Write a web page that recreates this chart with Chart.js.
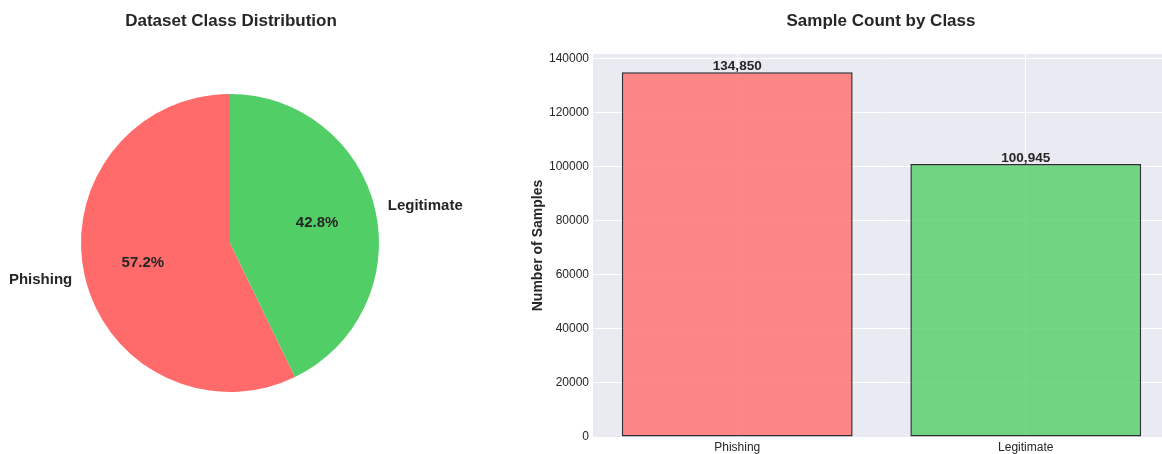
<!DOCTYPE html>
<html>
<head>
<meta charset="utf-8">
<script src="https://cdn.jsdelivr.net/npm/chart.js@4"></script>
<style>
  body { margin: 0; background: #fff; overflow: hidden; }
  #wrap { position: relative; width: 1162px; height: 454px; overflow: hidden; }
  #pieBox { position: absolute; left: 0; top: 0; width: 470px; height: 454px; }
  #barBox { position: absolute; left: 470px; top: 0; width: 700px; height: 454px; }
</style>
</head>
<body>
<div id="wrap">
  <div id="pieBox"><canvas id="pieChart"></canvas></div>
  <div id="barBox"><canvas id="barChart"></canvas></div>
</div>
<script>
// Data
const classes = ['Phishing', 'Legitimate'];
const counts = [134850, 100945];
const pieColors = ['#ff6b6b', '#51cf66'];
const barColors = ['rgba(255, 107, 107, 0.8)', 'rgba(81, 207, 102, 0.8)'];
const yTicks = [0, 20000, 40000, 60000, 80000, 100000, 120000, 140000];

const FONT = '"Liberation Sans", Arial, sans-serif';
const TEXT = '#262626';
Chart.defaults.font.family = FONT;
Chart.defaults.color = TEXT;

const total = counts.reduce((a, b) => a + b, 0);

// Titles drawn on each canvas
function titlePlugin(text, x) {
    return {
        id: 'titleText',
        afterDraw(chart) {
            const ctx = chart.ctx;
            ctx.save();
            ctx.font = 'bold 17px ' + FONT;
            ctx.fillStyle = TEXT;
            ctx.textAlign = 'center';
            ctx.textBaseline = 'middle';
            ctx.fillText(text, x, 21);
            ctx.restore();
        }
    };
}

// Pie labels (names outside, percentages inside)
const pieLabels = {
    id: 'pieLabels',
    afterDatasetsDraw(chart) {
        const ctx = chart.ctx;
        const meta = chart.getDatasetMeta(0);
        ctx.save();
        ctx.fillStyle = TEXT;
        ctx.textBaseline = 'middle';
        meta.data.forEach((arc, i) => {
            const mid = (arc.startAngle + arc.endAngle) / 2;
            const r = arc.outerRadius;
            const c = Math.cos(mid), s = Math.sin(mid);
            // category name
            ctx.font = 'bold 15px ' + FONT;
            ctx.textAlign = c >= 0 ? 'left' : 'right';
            ctx.fillText(classes[i], arc.x + c * r * 1.1 + (c >= 0 ? -2 : 2), arc.y + s * r * 1.1);
            // percentage
            ctx.font = 'bold 15px ' + FONT;
            ctx.textAlign = 'center';
            const pct = (counts[i] / total * 100).toFixed(1) + '%';
            ctx.fillText(pct, arc.x + c * r * 0.6, arc.y + s * r * 0.6);
        });
        ctx.restore();
    }
};

new Chart(document.getElementById('pieChart'), {
    type: 'pie',
    data: {
        labels: classes,
        datasets: [{
            data: counts,
            backgroundColor: pieColors,
            borderWidth: 0
        }]
    },
    options: {
        responsive: true,
        maintainAspectRatio: false,
        animation: false,
        // first slice ends at 12 o'clock, like matplotlib startangle=90
        rotation: -counts[0] / total * 360,
        layout: { padding: { left: 81, right: 91, top: 94, bottom: 62 } },
        plugins: {
            legend: { display: false },
            tooltip: { enabled: false }
        }
    },
    plugins: [pieLabels, titlePlugin('Dataset Class Distribution', 231)]
});

// Bar chart helpers
const plotBackground = {
    id: 'plotBackground',
    beforeDraw(chart) {
        const { ctx, chartArea } = chart;
        ctx.save();
        ctx.fillStyle = '#eaeaf2';
        ctx.fillRect(chartArea.left, chartArea.top, chartArea.right - chartArea.left, chartArea.bottom - chartArea.top);
        ctx.restore();
    }
};

const valueLabels = {
    id: 'valueLabels',
    afterDatasetsDraw(chart) {
        const ctx = chart.ctx;
        const meta = chart.getDatasetMeta(0);
        ctx.save();
        ctx.font = 'bold 13.5px ' + FONT;
        ctx.fillStyle = TEXT;
        ctx.textAlign = 'center';
        ctx.textBaseline = 'bottom';
        meta.data.forEach((bar, i) => {
            ctx.fillText(counts[i].toLocaleString('en-US'), bar.x, bar.y + 1);
        });
        ctx.restore();
    }
};

new Chart(document.getElementById('barChart'), {
    type: 'bar',
    data: {
        labels: classes,
        datasets: [{
            data: counts,
            backgroundColor: barColors,
            borderColor: 'rgba(0, 0, 0, 0.8)',
            borderWidth: 1.5,
            borderSkipped: false,
            barPercentage: 0.8,
            categoryPercentage: 1.0
        }]
    },
    options: {
        responsive: true,
        maintainAspectRatio: false,
        animation: false,
        layout: { padding: { top: 54, right: 0, left: 0, bottom: 0 } },
        plugins: {
            legend: { display: false },
            tooltip: { enabled: false }
        },
        scales: {
            x: {
                grid: { color: '#ffffff', lineWidth: 1, offset: false, drawTicks: false },
                border: { display: false },
                ticks: { color: TEXT, font: { size: 12 }, padding: 3 },
                afterFit(scale) { scale.height = 17; }
            },
            y: {
                min: 0,
                max: Math.max(...counts) * 1.05,
                afterBuildTicks(scale) { scale.ticks = yTicks.map(v => ({ value: v })); },
                grid: { color: '#ffffff', lineWidth: 1, drawTicks: false },
                border: { display: false },
                ticks: { color: TEXT, font: { size: 12 }, padding: 4, callback: v => String(v) },
                title: {
                    display: true,
                    text: 'Number of Samples',
                    font: { size: 14, weight: 'bold' },
                    color: TEXT,
                    padding: { top: 60, bottom: 0 }
                },
                afterFit(scale) { scale.width = 123; }
            }
        }
    },
    plugins: [plotBackground, valueLabels, titlePlugin('Sample Count by Class', 411)]
});
</script>
</body>
</html>
